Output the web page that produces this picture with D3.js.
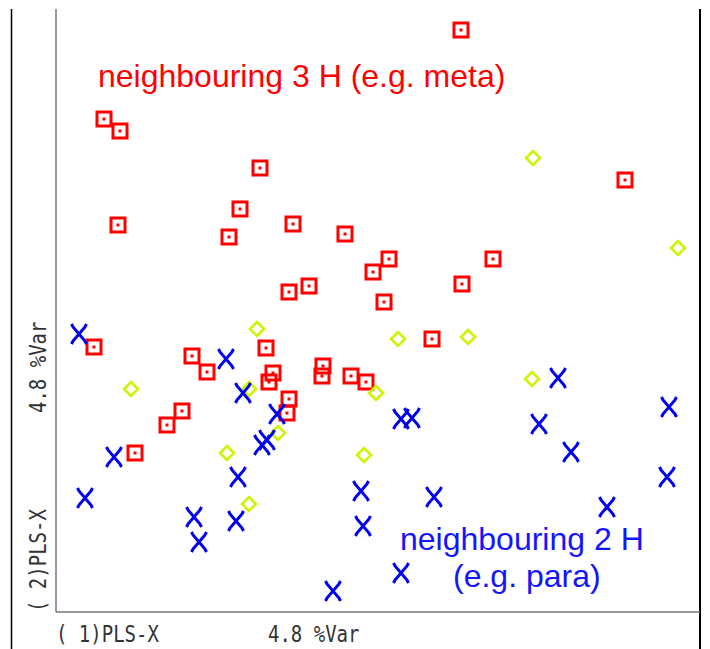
<!DOCTYPE html>
<html lang="en">
<head>
  <meta charset="UTF-8">
  <title>PLS scores</title>
  <style>
    body { margin: 0; background: #fff; }
    svg { display: block; }
  </style>
</head>
<body>
  <script src="https://d3js.org/d3.v7.min.js"></script>
  <script>
    // score values, PLS component 1 (x) and 2 (y)
    const metaX = [8.5, -27.2, -25.6, -11.6, 24.9, -13.6, -25.8, -8.3, -14.7, -3.1, 1.3, -0.3, 11.7, -6.7, -8.7, 8.6, 0.8,
      -28.2, 5.6, -11.0, -18.4, -16.9, -10.3, -10.7, -5.3, -5.4, -2.5, -1.0, -8.7, -8.9, -19.4, -20.9, -24.1];
    const metaY = [28.2, 19.3, 18.1, 14.4, 13.2, 10.3, 8.7, 8.8, 7.5, 7.8, 5.3, 4.0, 5.3, 2.6, 2.0, 2.8, 1.0,
      -3.5, -2.7, -3.6, -4.4, -6.0, -6.1, -7.0, -5.4, -6.4, -6.4, -7.0, -8.7, -10.1, -9.9, -11.3, -14.1];

    const paraX = [-29.7, -15.0, -13.3, -9.9, -10.9, -11.4, -26.2, -13.8, -29.1, -1.5, -18.2, -14.0, -1.3, -17.7, -4.3,
      18.2, 29.3, 2.5, 3.6, 16.3, 19.5, 29.1, 5.8, 23.1, 2.5];
    const paraY = [-2.2, -4.7, -8.1, -10.2, -12.8, -13.3, -14.5, -16.5, -18.6, -17.9, -20.5, -20.9, -21.4, -23.0, -27.9,
      -6.6, -9.5, -10.7, -10.6, -11.2, -14.0, -16.5, -18.5, -19.5, -26.1];

    const otherX = [15.7, 30.2, -11.9, 2.2, 9.2, -24.5, -12.7, 0.0, 15.6, -9.8, -14.9, -1.2, -12.7];
    const otherY = [15.4, 6.4, -1.7, -2.7, -2.5, -7.7, -7.7, -8.1, -6.7, -12.1, -14.1, -14.3, -19.2];

    const xDomain = [-32, 32.4];
    const yDomain = [-30, 30.3];
    const axisLabels = ["( 1)PLS-X", "4.8 %Var", "( 2)PLS-X", "4.8 %Var"];
    const notes = ["neighbouring 3 H (e.g. meta)", "neighbouring 2 H", "(e.g. para)"];

    const width = 710, height = 649;
    const margin = { top: 9, left: 56, bottom: 37, right: 10 };

    const svg = d3.select('body').append('svg').attr('width', width).attr('height', height);

    const x = d3.scaleLinear().domain(xDomain).range([margin.left, width - margin.right]);
    const y = d3.scaleLinear().domain(yDomain).range([height - margin.bottom, margin.top]);

    const x0 = x.range()[0], x1 = x.range()[1];
    const y0 = y.range()[0], y1 = y.range()[1];

    // frame lines
    svg.append('line').attr('x1', 11.5).attr('x2', 11.5).attr('y1', y1).attr('y2', height)
      .attr('stroke', '#000').attr('stroke-width', 1.5);
    svg.append('line').attr('x1', x1).attr('x2', x1).attr('y1', y1).attr('y2', height)
      .attr('stroke', '#000').attr('stroke-width', 2);
    svg.append('line').attr('x1', x0).attr('x2', x0).attr('y1', y1).attr('y2', y0)
      .attr('stroke', '#777').attr('stroke-width', 1.5);
    svg.append('line').attr('x1', x0).attr('x2', x1).attr('y1', y0).attr('y2', y0)
      .attr('stroke', '#777').attr('stroke-width', 1.5);

    // axis labels (plotter-style mono text)
    const lab = svg.append('g').attr('font-family', 'DejaVu Sans Mono').attr('font-size', 19).attr('fill', '#333');
    lab.append('text').attr('transform', `translate(${x0},${y0 + 30}) scale(1,1.22)`).text(axisLabels[0]);
    lab.append('text').attr('transform', `translate(${x0 + 212},${y0 + 30}) scale(1,1.22)`).text(axisLabels[1]);
    lab.append('text').attr('transform', `translate(46,${y0}) rotate(-90) scale(1,1.22)`).text(axisLabels[2]);
    lab.append('text').attr('transform', `translate(46,${y0 - 199}) rotate(-90) scale(1,1.22)`).text(axisLabels[3]);

    const meta = d3.zip(metaX, metaY);
    const para = d3.zip(paraX, paraY);
    const other = d3.zip(otherX, otherY);

    // red squares with dot
    const sq = svg.append('g').selectAll('g').data(meta).enter().append('g')
      .attr('transform', d => `translate(${x(d[0])},${y(d[1])})`);
    sq.append('rect').attr('x', -7).attr('y', -7).attr('width', 14).attr('height', 14)
      .attr('fill', 'none').attr('stroke', '#ff0000').attr('stroke-width', 3);
    sq.append('rect').attr('x', -1.5).attr('y', -1.5).attr('width', 3).attr('height', 3).attr('fill', '#ff0000');

    // yellow-green diamonds
    svg.append('g').selectAll('path').data(other).enter().append('path')
      .attr('d', 'M0,-7L7,0L0,7L-7,0Z')
      .attr('transform', d => `translate(${x(d[0])},${y(d[1])})`)
      .attr('fill', 'none').attr('stroke', '#ccf500').attr('stroke-width', 2.6);

    // blue crosses
    svg.append('g').selectAll('path').data(para).enter().append('path')
      .attr('d', 'M-7.5,-10L-6,-7L6,7L7.5,10M7.5,-10L6,-7L-6,7L-7.5,10')
      .attr('transform', d => `translate(${x(d[0])},${y(d[1])})`)
      .attr('fill', 'none').attr('stroke', '#0000ee').attr('stroke-width', 3);

    // annotations
    const ann = svg.append('g').attr('font-family', 'Liberation Sans, Arial, sans-serif').attr('font-size', 32);
    ann.append('text').attr('x', 98).attr('y', 87).attr('fill', '#ff0000').text(notes[0]);
    ann.append('text').attr('x', 400).attr('y', 550).attr('fill', '#1414ff').text(notes[1]);
    ann.append('text').attr('x', 453).attr('y', 587).attr('fill', '#1414ff').text(notes[2]);
  </script>
</body>
</html>
